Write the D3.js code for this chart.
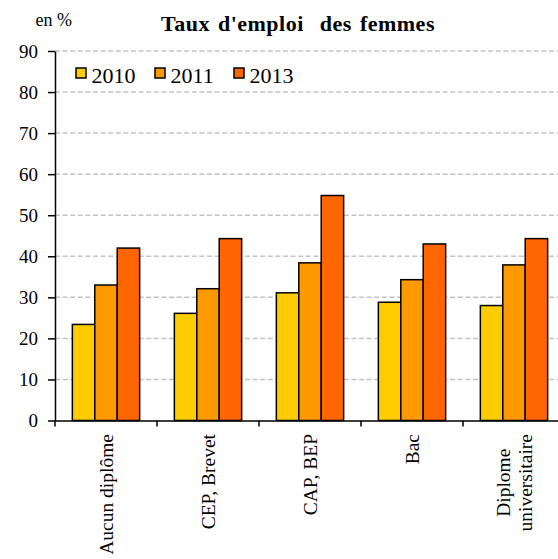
<!DOCTYPE html>
<html>
<head>
<meta charset="utf-8">
<script src="https://cdn.jsdelivr.net/npm/d3@7"></script>
<style>
  body { margin: 0; background: #fff; }
  svg { display: block; }
  text { font-family: "Liberation Serif", "Times New Roman", serif; fill: #000; }
</style>
</head>
<body>
<svg id="chart" width="558" height="559"></svg>
<script>
// Employment rate of women by diploma level, in %
const categories = ["Aucun diplôme", "CEP, Brevet", "CAP, BEP", "Bac", "Diplome\nuniversitaire"];
const years = ["2010", "2011", "2013"];
const values2010 = [23.4, 26.1, 31.1, 28.8, 28.0];
const values2011 = [33.0, 32.1, 38.4, 34.3, 37.9];
const values2013 = [42.0, 44.3, 54.8, 43.0, 44.3];
const yTicks = [0, 10, 20, 30, 40, 50, 60, 70, 80, 90];
const colors = ["#FFCC00", "#FF9900", "#FF6600"];

const seriesValues = [values2010, values2011, values2013];
const serifStack = '"Liberation Serif", "Times New Roman", serif';

const svg = d3.select("#chart");

const x0 = d3.scaleBand().domain(categories).range([55, 565]);
const x1 = d3.scaleBand().domain(years).range([0, x0.bandwidth()])
  .paddingInner(0).paddingOuter(0.774);
const y = d3.scaleLinear().domain([0, 90]).range([420.5, 51]);
const color = d3.scaleOrdinal().domain(years).range(colors);

// dashed horizontal gridlines
svg.append("g").selectAll("line")
  .data(yTicks.filter(v => v > 0))
  .join("line")
  .attr("x1", 55).attr("x2", 558)
  .attr("y1", d => y(d)).attr("y2", d => y(d))
  .attr("stroke", "#c4c4c4")
  .attr("stroke-width", 1.5)
  .attr("stroke-dasharray", "5,2.6");

// grouped bars
const groups = svg.append("g").selectAll("g")
  .data(categories)
  .join("g")
  .attr("transform", c => `translate(${x0(c)},0)`);

groups.selectAll("rect")
  .data((c, ci) => years.map((yr, si) => ({ year: yr, value: seriesValues[si][ci] })))
  .join("rect")
  .attr("x", d => x1(d.year))
  .attr("y", d => y(d.value))
  .attr("width", x1.bandwidth())
  .attr("height", d => y(0) - y(d.value))
  .attr("fill", d => color(d.year))
  .attr("stroke", "#000")
  .attr("stroke-width", 1.5);

// y axis
const yAxis = svg.append("g")
  .attr("transform", "translate(55,0)")
  .call(d3.axisLeft(y).tickValues(yTicks).tickSize(7).tickSizeOuter(0).tickPadding(10));
yAxis.attr("font-family", null);
yAxis.select(".domain").attr("stroke", "#000").attr("stroke-width", 1.5);
yAxis.selectAll(".tick line").attr("stroke", "#000").attr("stroke-width", 1.5);
yAxis.selectAll(".tick text")
  .style("font-family", serifStack)
  .style("font-size", "19px")
  .attr("fill", "#000");

// x axis line with ticks at category boundaries
const xAxis = svg.append("g")
  .attr("transform", `translate(0,${y(0)})`)
  .call(d3.axisBottom(x0).tickSize(0).tickSizeOuter(0).tickFormat(""));
xAxis.select(".domain").attr("stroke", "#000").attr("stroke-width", 1.5);
xAxis.selectAll(".tick").remove();
xAxis.selectAll("line.sep")
  .data(categories)
  .join("line")
  .attr("class", "sep")
  .attr("x1", c => x0(c)).attr("x2", c => x0(c))
  .attr("y1", 0).attr("y2", 6)
  .attr("stroke", "#000").attr("stroke-width", 1.5);

// rotated category labels
const labelTop = 434;
const lineGap = 22;
const labels = svg.append("g").selectAll("g")
  .data(categories)
  .join("g")
  .attr("transform", c => `translate(${x0(c) + x0.bandwidth() / 2},${labelTop}) rotate(-90)`);

labels.each(function (c) {
  const g = d3.select(this);
  const lines = c.split("\n");
  const texts = g.selectAll("text")
    .data(lines)
    .join("text")
    .attr("y", (d, i) => (i - (lines.length - 1) / 2) * lineGap)
    .attr("dy", "0.37em")
    .attr("text-anchor", "middle")
    .style("font-size", "19.5px")
    .text(d => d);
  let maxLen = 0;
  texts.each(function () { maxLen = Math.max(maxLen, this.getComputedTextLength()); });
  texts.attr("x", -maxLen / 2);
});

// legend
const legend = svg.append("g").selectAll("g")
  .data(years)
  .join("g")
  .attr("transform", (d, i) => `translate(${76 + i * 79},68)`);
legend.append("rect")
  .attr("width", 10).attr("height", 10)
  .attr("fill", d => color(d))
  .attr("stroke", "#000").attr("stroke-width", 1.5);
legend.append("text")
  .attr("x", 15.5).attr("y", 15.3)
  .style("font-size", "22px")
  .text(d => d);

// unit and title
svg.append("text")
  .attr("x", 35.5).attr("y", 25.5)
  .style("font-size", "18px")
  .text("en %");

svg.append("text")
  .attr("x", 298).attr("y", 30.5)
  .attr("text-anchor", "middle")
  .style("font-size", "22px")
  .style("font-weight", "bold")
  .style("letter-spacing", "0.5px")
  .style("word-spacing", "2px")
  .style("white-space", "pre")
  .text("Taux d'emploi  des femmes");
</script>
</body>
</html>
